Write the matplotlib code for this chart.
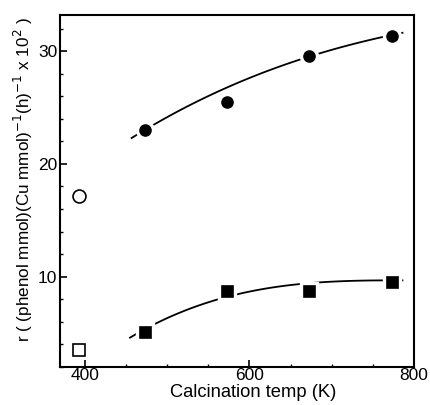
import numpy as np
import matplotlib.pyplot as plt
from matplotlib.ticker import MultipleLocator

plt.rcParams['font.family'] = ['Liberation Sans', 'DejaVu Sans']

# calcined samples
temps = [473, 573, 673, 773]
phenol_rate = [23.0, 25.5, 29.6, 31.3]
other_rate = [5.1, 8.7, 8.7, 9.5]

# uncalcined reference points
ref_temp = [393]
ref_phenol = [17.2]
ref_other = [3.5]

# hand-drawn guide curves
guide_x_up = [457, 523, 572, 616, 673, 725, 786]
guide_y_up = [22.3, 25.0, 26.8, 28.1, 29.4, 30.7, 31.6]
guide_x_lo = [455, 523, 564, 582, 624, 661, 685, 740, 786]
guide_y_lo = [4.6, 7.05, 8.0, 8.4, 9.0, 9.35, 9.55, 9.6, 9.7]

fig = plt.figure(figsize=(4.31, 4.05), dpi=100)
ax = fig.add_axes([60 / 431, 38 / 405, 354 / 431, 352 / 405])

# smooth the guide curves
xs = np.linspace(guide_x_up[0], guide_x_up[-1], 120)
ax.plot(xs, np.polyval(np.polyfit(guide_x_up, guide_y_up, 3), xs), color='black', lw=1.3, zorder=1)
xs = np.linspace(guide_x_lo[0], guide_x_lo[-1], 120)
ax.plot(xs, np.polyval(np.polyfit(guide_x_lo, guide_y_lo, 3), xs), color='black', lw=1.3, zorder=1)

ax.plot(temps, phenol_rate, 'o', color='black', ms=11.5, mec='white', mew=2.4, zorder=3)
ax.plot(temps, other_rate, 's', color='black', ms=12, mec='white', mew=2.4, zorder=3)
ax.plot(ref_temp, ref_phenol, 'o', mfc='white', mec='black', ms=9.3, mew=1.2, zorder=3)
ax.plot(ref_temp, ref_other, 's', mfc='white', mec='black', ms=9.3, mew=1.2, zorder=3)

ax.set_xlim(370, 800)
ax.set_ylim(2, 33.2)
ax.set_xticks([400, 600, 800])
ax.xaxis.set_minor_locator(MultipleLocator(50))
ax.set_yticks([10, 20, 30])
ax.yaxis.set_minor_locator(MultipleLocator(2))
ax.tick_params(which='major', direction='in', length=5, width=1.2, labelsize=12.5, pad=2)
ax.tick_params(axis='x', which='major', pad=1)
ax.tick_params(which='minor', direction='in', length=2.5, width=1)

for s in ax.spines.values():
    s.set_linewidth(1.5)

ax.set_xlabel('Calcination temp (K)', fontsize=13.2)
ax.xaxis.set_label_coords(0.547, -0.047)
ax.set_ylabel(r'r ( (phenol mmol)(Cu mmol)$^{-1}$(h)$^{-1}$ x 10$^{2}$ )', fontsize=12.3)
ax.yaxis.set_label_coords(-0.07, 0.531)

fig.savefig('out.png', dpi=100)
